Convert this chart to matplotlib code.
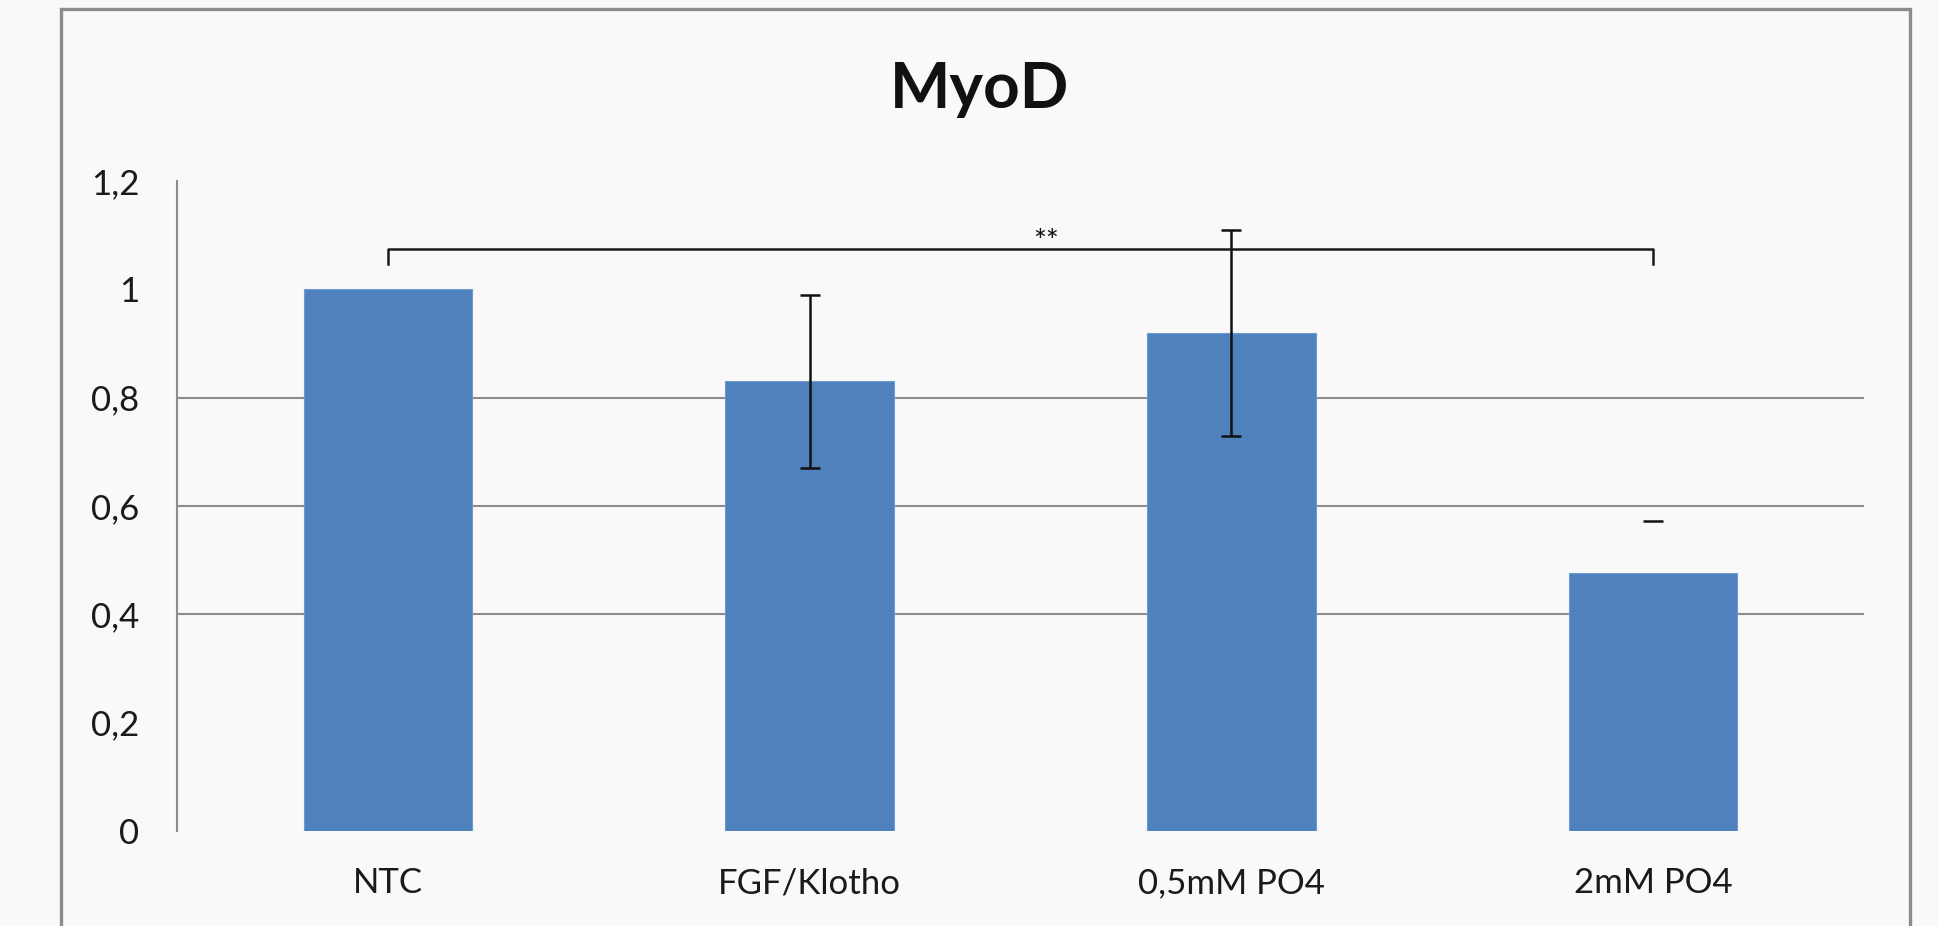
import matplotlib.pyplot as plt
from matplotlib.patches import Rectangle
import numpy as np

# Data
groups = ["NTC", "FGF/Klotho", "0,5mM PO4", "2mM PO4"]
values = [1.0, 0.83, 0.92, 0.476]
errors = [0.0, 0.16, 0.19, 0.096]
y_ticks = [0, 0.2, 0.4, 0.6, 0.8, 1.0, 1.2]
y_labels = ["0", "0,2", "0,4", "0,6", "0,8", "1", "1,2"]
grid_at = [0.4, 0.6, 0.8]
sig_pair = (0, 3)
sig_level = 1.074
sig_text = "**"

bg = "#f9f9f9"
bar_color = "#4f81bd"
gray = "#8c8c8c"

plt.rcParams["font.family"] = ["Lato", "DejaVu Sans"]

fig = plt.figure(figsize=(19.39, 9.26), dpi=100, facecolor=bg)
ax = fig.add_axes([0.0913, 0.1026, 0.870, 0.7019])
ax.set_facecolor(bg)

# outer chart frame (bottom edge runs off the picture)
frame = Rectangle((61 / 1939, -0.05), (1910 - 61) / 1939, 1.05 - 9 / 926,
                  transform=fig.transFigure, fill=False, edgecolor=gray,
                  linewidth=2.4, clip_on=False)
fig.patches.append(frame)

x = np.arange(len(groups))
for g in grid_at:
    ax.axhline(g, color=gray, linewidth=1.5, zorder=0)

ax.bar(x, values, width=0.4, color=bar_color, edgecolor="#6f9bd0",
       linewidth=0.8, zorder=2)

# error bars (last one only shows its upper cap in the original)
ax.errorbar(x[1:3], values[1:3], yerr=errors[1:3], fmt="none", ecolor="#111111",
            elinewidth=1.8, capsize=7.5, capthick=1.8, zorder=3)
ax.plot([x[3]], [values[3] + errors[3]], marker="_", markersize=15,
        markeredgewidth=1.8, color="#111111", linestyle="none", zorder=3)

# significance bracket
x0, x1 = sig_pair
ax.plot([x0, x0, x1, x1], [sig_level - 0.028, sig_level, sig_level, sig_level - 0.028],
        color="#1a1a1a", linewidth=1.8, zorder=3)
ax.text(1.56, sig_level - 0.012, sig_text, ha="center", va="bottom",
        fontsize=22, color="#111111")

ax.set_xlim(-0.5, 3.5)
ax.set_ylim(0, 1.2)
ax.set_yticks(y_ticks)
ax.set_yticklabels(y_labels)
ax.set_xticks(x)
ax.set_xticklabels(groups)
ax.tick_params(axis="y", length=0, pad=27, labelsize=25, labelcolor="#1a1a1a")
ax.tick_params(axis="x", length=0, pad=26, labelsize=25, labelcolor="#1a1a1a")

for side in ["top", "right", "bottom"]:
    ax.spines[side].set_visible(False)
ax.spines["left"].set_color(gray)
ax.spines["left"].set_linewidth(1.5)

fig.text(979 / 1939, 1 - 89 / 926, "MyoD", ha="center", va="center",
         fontsize=46, fontweight="bold", color="#111111")

plt.savefig("out.png", dpi=100, facecolor=bg)
